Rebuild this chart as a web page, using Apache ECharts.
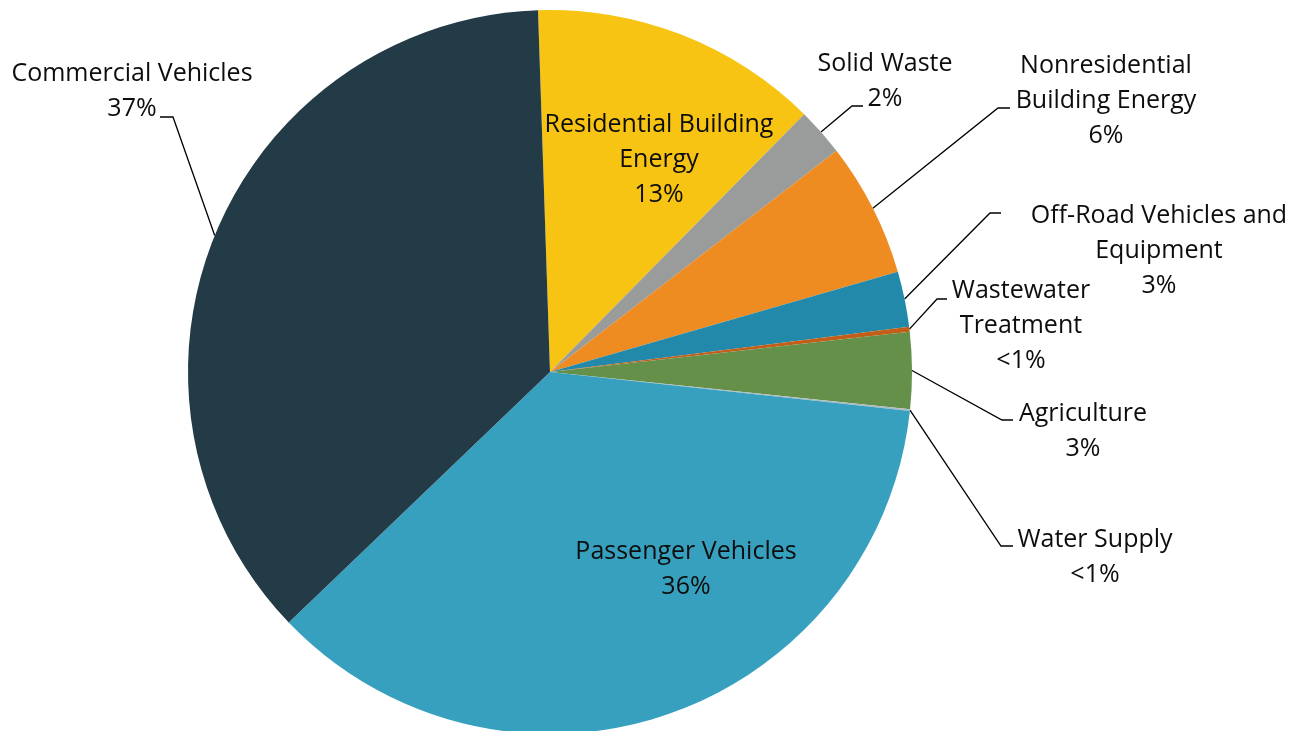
<!DOCTYPE html>
<html>
<head>
<meta charset="utf-8">
<script src="https://cdn.jsdelivr.net/npm/echarts@6/dist/echarts.min.js"></script>
<style>
  html, body { margin: 0; padding: 0; background: #fff; }
  #chart { width: 1303px; height: 731px; }
</style>
</head>
<body>
<div id="chart"></div>
<script>
// slices in clockwise order, starting just left of 12 o'clock
var categories = ['Residential Building Energy', 'Solid Waste', 'Nonresidential Building Energy',
    'Off-Road Vehicles and Equipment', 'Wastewater Treatment', 'Agriculture', 'Water Supply',
    'Passenger Vehicles', 'Commercial Vehicles'];
var values = [12.92, 2.14, 6.0, 2.47, 0.22, 3.42, 0.08, 36.11, 36.64];
var pctLabels = ['13%', '2%', '6%', '3%', '<1%', '3%', '<1%', '36%', '37%'];
var labelNames = ['Residential Building\nEnergy', 'Solid Waste', 'Nonresidential\nBuilding Energy',
    'Off-Road Vehicles and\nEquipment', 'Wastewater\nTreatment', 'Agriculture', 'Water Supply',
    'Passenger Vehicles', 'Commercial Vehicles'];
var colors = ['#F7C414', '#9A9B9B', '#EE8C22', '#2289AA', '#C25E17', '#65904A', '#AEBCC1', '#38A0BF', '#233B46'];

var CX = 550, CY = 372, R = 362, START = 91.9;

// label placement: [centerX, centerY, elbowX, elbowY, endX] (inside labels have no elbow)
var labelPos = [
    [659, 160],
    [885, 81, 852, 106, 863],
    [1106, 101, 998, 108, 1010],
    [1159, 251, 990, 213, 1001],
    [1021, 326, 937, 299, 947],
    [1083, 431, 1002, 420, 1013],
    [1095, 557, 1001, 546, 1013],
    [686, 569],
    [132, 91, 173, 117, 160]
];

var total = values.reduce(function (a, b) { return a + b }, 0);
var midAngles = [];
var acc = 0;
for (var i = 0; i < values.length; i++) {
    var a0 = -(START - 90) + acc / total * 360;
    acc += values[i];
    var a1 = -(START - 90) + acc / total * 360;
    midAngles.push((a0 + a1) / 2 * Math.PI / 180);
}

var data = categories.map(function (name, i) {
    var item = { name: name, value: values[i], itemStyle: { color: colors[i] } };
    if (labelPos[i].length === 2) {
        item.label = { position: 'inside' };
        item.labelLine = { show: false };
    }
    return item;
});

var chart = echarts.init(document.getElementById('chart'));
var option = {
    animation: false,
    backgroundColor: '#fff',
    textStyle: { fontFamily: 'Open Sans' },
    series: [{
        type: 'pie',
        center: [CX, CY],
        radius: R,
        startAngle: START,
        clockwise: true,
        avoidLabelOverlap: false,
        data: data,
        itemStyle: { borderWidth: 0 },
        emphasis: { disabled: true },
        label: {
            show: true,
            position: 'outside',
            fontFamily: 'Open Sans',
            fontSize: 25,
            lineHeight: 35,
            color: '#0D0D0D',
            align: 'center',
            formatter: function (p) {
                return labelNames[p.dataIndex] + '\n' + pctLabels[p.dataIndex];
            }
        },
        labelLine: {
            show: true,
            length: 20,
            length2: 10,
            lineStyle: { color: '#000', width: 1.3 }
        },
        labelLayout: function (p) {
            var i = p.dataIndex;
            var lp = labelPos[i];
            var out = { x: lp[0], y: lp[1], align: 'center', verticalAlign: 'middle', hideOverlap: false };
            if (lp.length > 2) {
                var ang = midAngles[i];
                var anchor = [CX + R * Math.sin(ang), CY - R * Math.cos(ang)];
                out.labelLinePoints = [anchor, [lp[2], lp[3]], [lp[4], lp[3]]];
            }
            return out;
        }
    }]
};
chart.setOption(option);
</script>
</body>
</html>
